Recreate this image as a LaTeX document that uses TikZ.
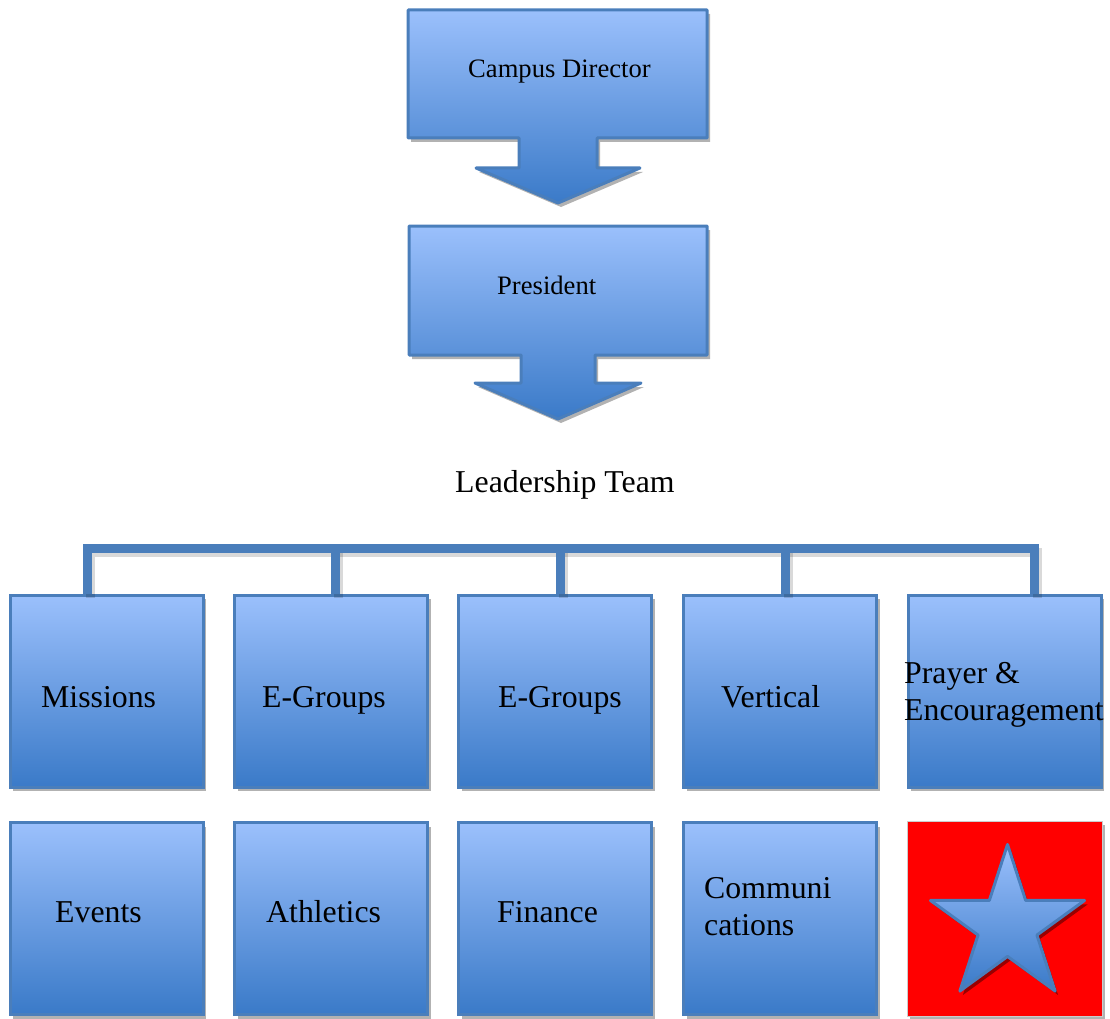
\documentclass[tikz,border=0pt]{standalone}
\usepackage{fontspec}
\setmainfont{Liberation Serif}
\usetikzlibrary{shapes.geometric,shadows}
\definecolor{bd}{RGB}{74,126,187}
\definecolor{ctop}{RGB}{155,192,252}
\definecolor{cbot}{RGB}{58,122,200}
\begin{document}
\begin{tikzpicture}[x=1pt,y=-1pt,
  shd/.style={drop shadow={shadow xshift=3pt, shadow yshift=-4pt, opacity=0.3, fill=black}},
  leafbox/.style={draw=bd, line width=3pt, top color=ctop, bottom color=cbot,
    minimum width=193pt, minimum height=192pt, inner sep=0pt, shd},
  callout/.style={draw=bd, line width=3pt, line join=round, top color=ctop, bottom color=cbot, shd},
  toplbl/.style={anchor=base west, inner sep=0pt, font=\fontsize{26.6}{31}\selectfont},
  lbl/.style={anchor=base west, inner sep=0pt, font=\fontsize{31.8}{37}\selectfont},
  bar/.style={draw=bd, line width=9pt, line join=miter},
  barshadow/.style={draw=black, opacity=0.15, line width=9pt, line join=miter},
  redbox/.style={fill=red, draw=black!20, line width=0.8pt, minimum width=195pt,
    minimum height=195pt, inner sep=0pt, shd},
  starshape/.style={star, star points=5, star point ratio=2.618, minimum size=162pt,
    inner sep=0pt, draw=bd, line width=3pt, line join=round, top color=ctop, bottom color=cbot,
    drop shadow={shadow xshift=3pt, shadow yshift=-4pt, opacity=0.4, fill=black}}]
\useasboundingbox (0,0) rectangle (1110,1019);

% top callouts
\path[callout] (408,10) -- (707,10) -- (707,138) -- (597,138) -- (597,168) -- (640,168)
  -- (558,203) -- (476,168) -- (519,168) -- (519,138) -- (408,138) -- cycle;
\node[toplbl] (cd) at (468,78) {Campus Director};

\path[callout] (409,226) -- (707,226) -- (707,355) -- (595,355) -- (595,383) -- (641,383)
  -- (558,419) -- (475,383) -- (521,383) -- (521,355) -- (409,355) -- cycle;
\node[toplbl] (pr) at (497,294) {President};

\node[lbl] (lt) at (455,492) {Leadership Team};

% boxes
\node[leafbox] (m1) at (106.5,691) {};
\node[leafbox] (m2) at (331,691) {};
\node[leafbox] (m3) at (555,691) {};
\node[leafbox] (m4) at (780,691) {};
\node[leafbox] (m5) at (1004.5,691) {};
\node[leafbox] (n1) at (106.5,918.5) {};
\node[leafbox] (n2) at (331,918.5) {};
\node[leafbox] (n3) at (555,918.5) {};
\node[leafbox] (n4) at (780,918.5) {};
\node[redbox] (n5) at (1004.5,918.5) {};
\node[starshape] (star) at (1007.5,925.5) {};

% connector
\coordinate (b1) at (87,548);
\coordinate (b2) at (335.5,548);
\coordinate (b3) at (560.5,548);
\coordinate (b4) at (785,548);
\coordinate (b5) at (1034,548);
\begin{scope}[transform canvas={shift={(3pt,-4pt)}}]
\draw[barshadow] (b1 |- m1.north) -- (b1) -- (b5) -- (b5 |- m5.north);
\draw[barshadow] (b2) -- (b2 |- m2.north);
\draw[barshadow] (b3) -- (b3 |- m3.north);
\draw[barshadow] (b4) -- (b4 |- m4.north);
\end{scope}
\draw[bar] (b1 |- m1.north) -- (b1) -- (b5) -- (b5 |- m5.north);
\draw[bar] (b2) -- (b2 |- m2.north);
\draw[bar] (b3) -- (b3 |- m3.north);
\draw[bar] (b4) -- (b4 |- m4.north);

% labels
\node[lbl] (t1) at (41,707) {Missions};
\node[lbl] (t2) at (262,707) {E-Groups};
\node[lbl] (t3) at (498,707) {E-Groups};
\node[lbl] (t4) at (721,707) {Vertical};
\node[lbl] (t5a) at (904,683) {Prayer \&};
\node[lbl] (t5b) at (904,720) {Encouragement};
\node[lbl] (u1) at (55,922) {Events};
\node[lbl] (u2) at (266,922) {Athletics};
\node[lbl] (u3) at (497,922) {Finance};
\node[lbl] (u4a) at (704,898) {Communi};
\node[lbl] (u4b) at (704,935) {cations};
\end{tikzpicture}
\end{document}
